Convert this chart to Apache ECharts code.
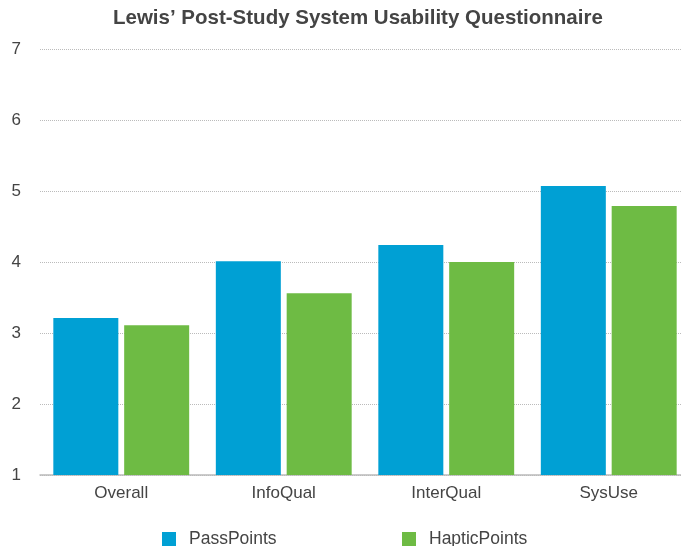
<!DOCTYPE html>
<html>
<head>
<meta charset="utf-8">
<script src="https://cdn.jsdelivr.net/npm/echarts@6/dist/echarts.min.js"></script>
<style>
  html, body { margin: 0; padding: 0; background: #fff; }
  #chart { width: 681px; height: 546px; }
</style>
</head>
<body>
<div id="chart"></div>
<script>
// data
var categories = ["Overall", "InfoQual", "InterQual", "SysUse"];
var passPoints = [3.21, 4.01, 4.24, 5.07];
var hapticPoints = [3.11, 3.56, 4.0, 4.79];

var chart = echarts.init(document.getElementById("chart"));
chart.setOption({
  animation: false,
  textStyle: { fontFamily: "Liberation Sans" },
  title: {
    text: "Lewis\u2019 Post-Study System Usability Questionnaire",
    left: 108,
    top: 3,
    textStyle: { fontSize: 20.5, fontWeight: "bold", color: "#444" }
  },
  legend: [
    {
      data: ["PassPoints"],
      left: 157,
      top: 525,
      itemWidth: 14,
      itemHeight: 14,
      icon: "rect",
      textStyle: { fontSize: 17.5, color: "#444", padding: [0, 0, 0, 8] }
    },
    {
      data: ["HapticPoints"],
      left: 397,
      top: 525,
      itemWidth: 14,
      itemHeight: 14,
      icon: "rect",
      textStyle: { fontSize: 17.5, color: "#444", padding: [0, 0, 0, 8] }
    }
  ],
  grid: {
    left: 40,
    top: 49,
    width: 650,
    height: 426,
    outerBoundsMode: "none"
  },
  xAxis: {
    type: "category",
    data: categories,
    axisLine: { lineStyle: { color: "#bbb", width: 1.5 } },
    axisTick: { show: false },
    axisLabel: { fontSize: 17, color: "#444", margin: 10 }
  },
  yAxis: {
    type: "value",
    min: 1,
    max: 7,
    interval: 1,
    axisLine: { show: false },
    axisTick: { show: false },
    axisLabel: { fontSize: 17, color: "#444", margin: 19 },
    splitLine: { lineStyle: { color: "#bbb", type: "dotted" } }
  },
  series: [
    {
      name: "PassPoints",
      type: "bar",
      data: passPoints,
      barWidth: 65,
      barGap: "9%",
      itemStyle: { color: "#00A0D4" }
    },
    {
      name: "HapticPoints",
      type: "bar",
      data: hapticPoints,
      barWidth: 65,
      itemStyle: { color: "#6EBB44" }
    }
  ]
});
</script>
</body>
</html>
